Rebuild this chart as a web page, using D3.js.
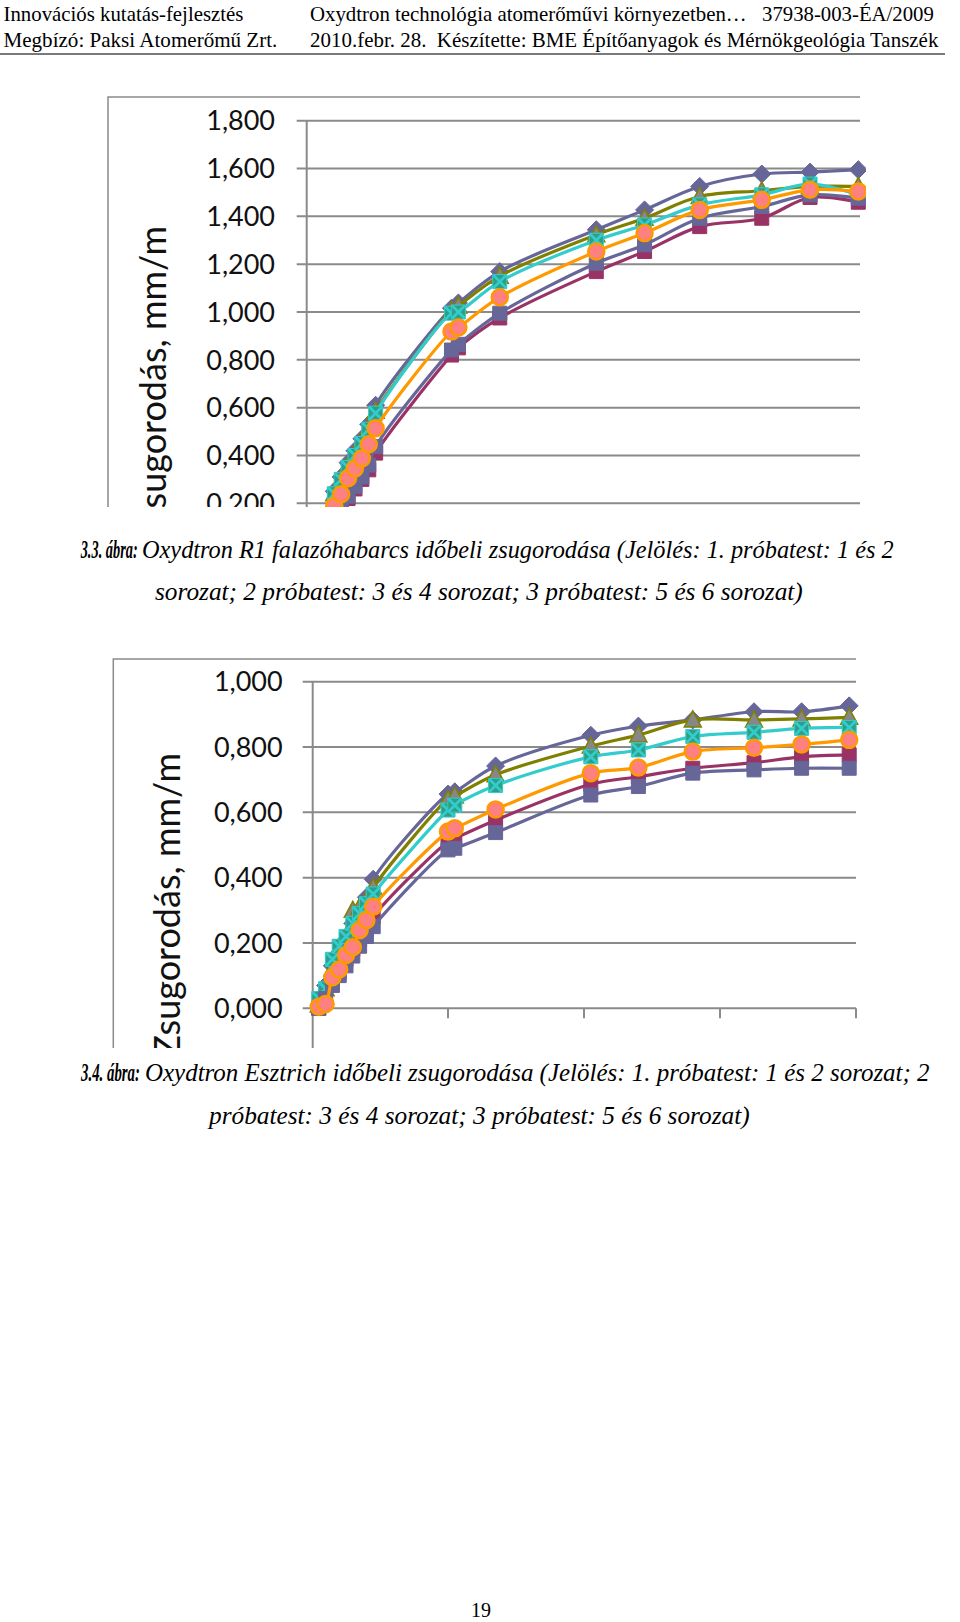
<!DOCTYPE html>
<html><head><meta charset="utf-8">
<script src="https://cdn.jsdelivr.net/npm/d3@7"></script>
<style>
html,body{margin:0;padding:0;background:#fff;}
svg{display:block;}
text{white-space:pre;}
</style></head>
<body>
<svg id="page" width="960" height="1622"></svg>
<script>
// ---------- DATA ----------
const seriesNames = ["1. sorozat","2. sorozat","3. sorozat","4. sorozat","5. sorozat","6. sorozat"];

// Chart 1: Oxydtron R1 falazóhabarcs (days)
const c1Days     = [4,5,6,7,8,9,10,21,22,28,42,49,57,66,73,80];
const c1Diamond  = [0.25,0.31,0.37,0.42,0.47,0.53,0.61,1.016,1.038,1.169,1.344,1.427,1.525,1.577,1.585,1.595];
const c1Plum     = [0.16,0.19,0.22,0.26,0.30,0.34,0.41,0.82,0.85,0.975,1.169,1.253,1.357,1.392,1.479,1.459];
const c1Olive    = [0.24,0.30,0.36,0.41,0.46,0.52,0.585,1.005,1.025,1.15,1.323,1.392,1.483,1.507,1.525,1.525];
const c1Teal     = [0.24,0.30,0.35,0.40,0.45,0.51,0.577,0.995,1.0,1.127,1.30,1.364,1.448,1.49,1.535,1.49];
const c1Slate    = [0.17,0.20,0.23,0.27,0.31,0.36,0.437,0.841,0.865,0.995,1.204,1.281,1.392,1.441,1.49,1.476];
const c1Circle   = [0.19,0.238,0.305,0.346,0.388,0.447,0.514,0.918,0.935,1.062,1.253,1.33,1.427,1.469,1.511,1.504];
const c1YTicks   = [0.2,0.4,0.6,0.8,1.0,1.2,1.4,1.6,1.8];

// Chart 2: Oxydtron Esztrich (days)
const c2Days     = [1,2,3,4,5,6,7,8,9,20,21,27,41,48,56,65,72,79];
const c2Diamond  = [0.01,0.07,0.13,0.17,0.21,0.26,0.30,0.34,0.395,0.656,0.663,0.742,0.836,0.864,0.883,0.908,0.908,0.926];
const c2Plum     = [0.0,0.04,0.08,0.11,0.15,0.18,0.21,0.24,0.28,0.510,0.520,0.576,0.686,0.709,0.735,0.752,0.770,0.776];
const c2Olive    = [0.01,0.06,0.12,0.17,0.22,0.30,0.31,0.33,0.37,0.64,0.65,0.715,0.803,0.837,0.883,0.883,0.886,0.891];
const c2Teal     = [0.03,0.06,0.15,0.19,0.22,0.26,0.29,0.32,0.35,0.607,0.622,0.682,0.770,0.791,0.832,0.845,0.857,0.860];
const c2Slate    = [0.0,0.03,0.07,0.10,0.13,0.16,0.19,0.22,0.25,0.485,0.490,0.538,0.653,0.679,0.720,0.730,0.735,0.735];
const c2Circle   = [0.005,0.013,0.095,0.119,0.163,0.187,0.239,0.270,0.311,0.541,0.551,0.609,0.720,0.737,0.786,0.798,0.808,0.822];
const c2YTicks   = [0,0.2,0.4,0.6,0.8,1.0];
const c2XTicks   = [20,40,60,80];

const yTitle = "Zsugorodás, mm/m";

// ---------- STYLES ----------
const styles = [
  {marker:"diamond", line:"#666699", fill:"#666699", stroke:"#666699"},
  {marker:"square",  line:"#993366", fill:"#993366", stroke:"#993366"},
  {marker:"triangle",line:"#808000", fill:"#878787", stroke:"#808000"},
  {marker:"x",       line:"#33CCCC", fill:"#2E9E86", stroke:"#33CCCC"},
  {marker:"square",  line:"#666699", fill:"#666699", stroke:"#666699"},
  {marker:"circle",  line:"#FF9900", fill:"#FF8080", stroke:"#FF9900"}
];
const gridCol = "#8a8a8a";
const svg = d3.select("#page");
const fmt = v => d3.format(".3f")(v).replace(".", ",");

function markerPath(type){
  switch(type){
    case "diamond": return "M0,-9L9,0L0,9L-9,0Z";
    case "square": return "M-7,-7H7V7H-7Z";
    case "triangle": return "M0,-9L8.5,7L-8.5,7Z";
    case "circle": return d3.symbol(d3.symbolCircle, Math.PI*8*8)();
    case "x": return "M-7,-7H7V7H-7Z";
  }
}

function drawChart(cfg){
  const clipId = "clip"+cfg.id;
  svg.append("clipPath").attr("id", clipId).append("rect")
    .attr("x", cfg.clip[0]).attr("y", cfg.clip[1]).attr("width", cfg.clip[2]).attr("height", cfg.clip[3]);
  const g = svg.append("g").attr("clip-path", `url(#${clipId})`);
  const x = d3.scaleLinear().domain([0,80]).range(cfg.xRange);
  const y = d3.scaleLinear().domain(cfg.yDomain).range(cfg.yRange);

  // chart area border (left + top)
  g.append("path").attr("d", `M${cfg.border[0]},${cfg.clip[1]+cfg.clip[3]+5}V${cfg.border[1]}H${cfg.gridEnd}`)
    .attr("fill","none").attr("stroke", gridCol).attr("stroke-width",1.5);

  // gridlines + tick marks
  g.append("g").selectAll("line").data(cfg.yTicks).join("line")
    .attr("x1", cfg.axisX-10).attr("x2", cfg.gridEnd)
    .attr("y1", d=>y(d)).attr("y2", d=>y(d))
    .attr("stroke", gridCol).attr("stroke-width",2);
  // y axis line
  g.append("line").attr("x1", cfg.axisX).attr("x2", cfg.axisX)
    .attr("y1", y(cfg.yDomain[1])).attr("y2", cfg.clip[1]+cfg.clip[3]+5)
    .attr("stroke", gridCol).attr("stroke-width",2);
  if (cfg.xTicks){
    g.append("g").selectAll("line").data(cfg.xTicks).join("line")
      .attr("x1", d=>x(d)).attr("x2", d=>x(d))
      .attr("y1", y(0)).attr("y2", y(0)+10)
      .attr("stroke", gridCol).attr("stroke-width",2);
  }
  // tick labels
  g.append("g").selectAll("text").data(cfg.yTicks).join("text")
    .attr("x", cfg.labelX).attr("y", d=>y(d)).attr("dy","0.36em")
    .attr("text-anchor","end").attr("font-family","Lato, 'Open Sans', sans-serif")
    .attr("font-size",27).attr("fill","#111").text(fmt);
  // y title
  g.append("text").attr("transform", `translate(${cfg.titleX},${cfg.titleTop}) rotate(-90)`)
    .attr("text-anchor","end").attr("font-family","Lato, 'Open Sans', sans-serif")
    .attr("font-size",36).attr("fill","#111").text(yTitle);

  // series
  const line = d3.line().x(d=>x(d[0])).y(d=>y(d[1])).curve(d3.curveCatmullRom.alpha(0.5));
  cfg.series.forEach((vals,i)=>{
    const st = styles[i];
    const pts = cfg.days.map((d,j)=>[d, vals[j]]);
    const sg = g.append("g");
    sg.append("path").attr("d", line(pts)).attr("fill","none")
      .attr("stroke", st.line).attr("stroke-width",3.2);
    const m = sg.selectAll("g.m").data(pts).join("g").attr("class","m")
      .attr("transform", d=>`translate(${x(d[0])},${y(d[1])})`);
    m.append("path").attr("d", markerPath(st.marker))
      .attr("fill", st.fill).attr("stroke", st.stroke)
      .attr("stroke-width", st.marker==="circle"?2.5:(st.marker==="triangle"?1.5:1));
    if (st.marker==="x"){
      m.append("path").attr("d","M-6.5,-6.5L6.5,6.5M6.5,-6.5L-6.5,6.5").attr("stroke", st.stroke)
        .attr("stroke-width",2.8).attr("fill","none");
    }
  });
}

drawChart({
  id:1, clip:[100,90,766,417], border:[108,97], gridEnd:860,
  xRange:[306.7,858.3], yDomain:[0.2,1.8], yRange:[503.3,120.7],
  axisX:306.7, labelX:275, yTicks:c1YTicks, xTicks:null,
  titleX:166, titleTop:226, days:c1Days,
  series:[c1Diamond,c1Plum,c1Olive,c1Teal,c1Slate,c1Circle]
});
drawChart({
  id:2, clip:[100,650,762,398], border:[113.3,659], gridEnd:856,
  xRange:[312,856], yDomain:[0,1], yRange:[1008.3,681.7],
  axisX:312.7, labelX:282.7, yTicks:c2YTicks, xTicks:c2XTicks,
  titleX:180, titleTop:753, days:c2Days,
  series:[c2Diamond,c2Plum,c2Olive,c2Teal,c2Slate,c2Circle]
});

// ---------- TEXT (page) ----------
// each part is fitted horizontally to its measured extent in the reference
function fitPart(p, y, size, family){
  const g = svg.append("g");
  const t = g.append("text").attr("font-family", family).attr("font-size", size).attr("fill","#000")
    .attr("font-weight", p.b ? "bold" : null)
    .attr("font-style", p.i ? "italic" : null)
    .text(p.t);
  const len = t.node().getComputedTextLength();
  g.attr("transform", `translate(${p.x},${y}) scale(${p.w/len},1)`);
}
const serif = "'Liberation Serif', 'Times New Roman', serif";
// header
fitPart({t:"Innovációs kutatás-fejlesztés", x:3.5, w:240}, 20.5, 21.5, serif);
fitPart({t:"Megbízó: Paksi Atomerőmű Zrt.", x:3.5, w:274}, 46.5, 21.5, serif);
fitPart({t:"Oxydtron technológia atomerőművi környezetben…", x:310, w:437}, 20.5, 21.5, serif);
fitPart({t:"37938-003-ÉA/2009", x:762, w:172}, 20.5, 21.5, serif);
fitPart({t:"2010.febr. 28.  Készítette: BME Építőanyagok és Mérnökgeológia Tanszék", x:310, w:629}, 46.5, 21.5, serif);
svg.append("line").attr("x1",0).attr("x2",945).attr("y1",54).attr("y2",54)
  .attr("stroke","#7a7a7a").attr("stroke-width",2.2);

// captions
fitPart({t:"3.3. ábra:", b:1, i:1, x:80.7, w:57}, 558, 25, serif);
fitPart({t:"Oxydtron R1 falazóhabarcs időbeli zsugorodása (Jelölés: 1. próbatest: 1 és 2", i:1, x:142, w:752}, 558, 25, serif);
fitPart({t:"sorozat; 2 próbatest: 3 és 4 sorozat; 3 próbatest: 5 és 6 sorozat)", i:1, x:155, w:648}, 600, 25, serif);
fitPart({t:"3.4. ábra:", b:1, i:1, x:81, w:59}, 1081, 25, serif);
fitPart({t:"Oxydtron Esztrich időbeli zsugorodása (Jelölés: 1. próbatest: 1 és 2 sorozat; 2", i:1, x:145, w:785}, 1081, 25, serif);
fitPart({t:"próbatest: 3 és 4 sorozat; 3 próbatest: 5 és 6 sorozat)", i:1, x:209, w:541}, 1124, 25, serif);

// page number
svg.append("text").attr("x",481).attr("y",1617).attr("text-anchor","middle")
  .attr("font-family", serif).attr("font-size",20).text("19");
</script>
</body></html>
